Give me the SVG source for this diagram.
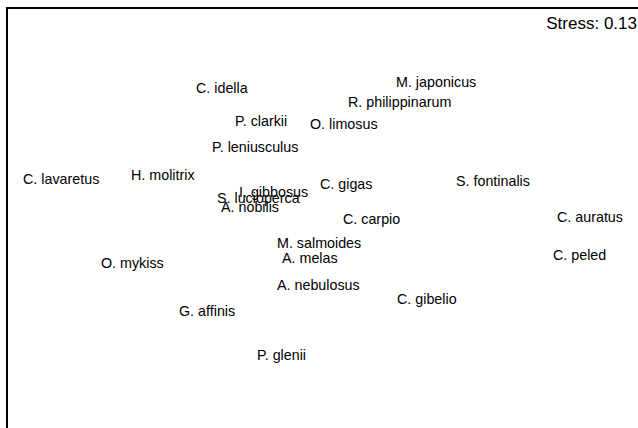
<svg xmlns="http://www.w3.org/2000/svg" width="638" height="428" viewBox="0 0 638 428">
<style>
text{font-family:"Liberation Sans",Arial,sans-serif;font-size:14.3px;fill:#000}
.stress{font-size:17px}
.frame{fill:none;stroke:#000;stroke-width:2}
</style>
<rect width="638" height="428" fill="#fff"/>
<g id="frame"><path class="frame" d="M7,428 V8 H638"/></g>
<text class="stress" x="637" y="29" text-anchor="end">Stress: 0.13</text>
<g id="connectors"/>
<g id="nodes">
<g id="n1"><text x="196" y="93">C. idella</text></g>
<g id="n2"><text x="396" y="87">M. japonicus</text></g>
<g id="n3"><text x="348" y="107">R. philippinarum</text></g>
<g id="n4"><text x="235" y="126">P. clarkii</text></g>
<g id="n5"><text x="310" y="129">O. limosus</text></g>
<g id="n6"><text x="212" y="152">P. leniusculus</text></g>
<g id="n7"><text x="23" y="184">C. lavaretus</text></g>
<g id="n8"><text x="131" y="180">H. molitrix</text></g>
<g id="n9"><text x="239" y="197">I. gibbosus</text></g>
<g id="n10"><text x="320" y="189">C. gigas</text></g>
<g id="n11"><text x="217" y="203">S. lucioperca</text></g>
<g id="n12"><text x="221" y="212">A. nobilis</text></g>
<g id="n13"><text x="456" y="186">S. fontinalis</text></g>
<g id="n14"><text x="343" y="224">C. carpio</text></g>
<g id="n15"><text x="557" y="222">C. auratus</text></g>
<g id="n16"><text x="277" y="248">M. salmoides</text></g>
<g id="n17"><text x="282" y="263">A. melas</text></g>
<g id="n18"><text x="553" y="260">C. peled</text></g>
<g id="n19"><text x="101" y="268">O. mykiss</text></g>
<g id="n20"><text x="277" y="290">A. nebulosus</text></g>
<g id="n21"><text x="397" y="304">C. gibelio</text></g>
<g id="n22"><text x="179" y="316">G. affinis</text></g>
<g id="n23"><text x="257" y="360">P. glenii</text></g>
</g>
</svg>
